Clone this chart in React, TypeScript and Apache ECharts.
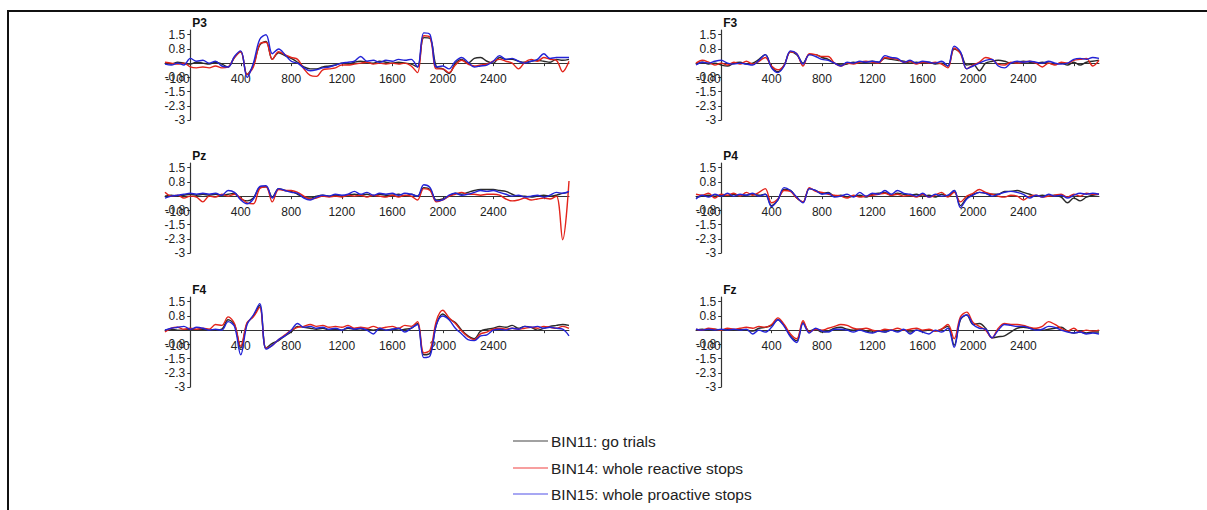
import React, { useEffect, useRef } from "react";
import * as echarts from "echarts";

// time points (ms)
const timeMs = [
  -200, -150, -100, -50, 0, 50, 100, 150, 200, 250, 300, 350, 400, 450, 500, 550, 600, 650, 700, 750,
  800, 850, 900, 950, 1000, 1050, 1100, 1150, 1200, 1250, 1300, 1350, 1400, 1450, 1500, 1550, 1600, 1650, 1700, 1750,
  1800, 1850, 1900, 1950, 2000, 2050, 2100, 2150, 2200, 2250, 2300, 2350, 2400, 2450, 2500, 2550, 2600, 2650, 2700, 2750,
  2800, 2850, 2900, 2950, 3000,
];

const channels = ["P3", "F3", "Pz", "P4", "F4", "Fz"];
const binNames = ["BIN11: go trials", "BIN14: whole reactive stops", "BIN15: whole proactive stops"];

const xLabelValues = [-100, 400, 800, 1200, 1600, 2000, 2400];
const xTickValues = [0, 400, 800, 1200, 1600, 2000, 2400, 2800];
const yLabelValues = [-3, -2.25, -1.5, -0.75, 0.75, 1.5];
const yLabelText = ["-3", "-2.3", "-1.5", "-0.8", "0.8", "1.5"];

// P3
const P3_go = [0.0, -0.05, 0.05, 0.0, -0.05, 0.05, 0.0, -0.05, 0.05, -0.05, -0.2, 0.3, 0.6, -0.6, -0.1, 0.95, 1.15, 0.2, 0.55, 0.4, 0.25, 0.05, -0.2, -0.3, -0.3, -0.2, -0.15, -0.1, 0.0, -0.05, 0.05, 0.1, 0.05, 0.0, 0.1, 0.05, 0.0, 0.05, 0.0, -0.05, -0.2, 1.35, 1.3, -0.2, -0.3, -0.55, 0.0, 0.2, 0.0, 0.25, 0.3, 0.1, 0.0, 0.3, 0.2, 0.2, 0.1, 0.05, 0.1, 0.15, 0.1, 0.05, 0.2, 0.15, 0.2];
const P3_reactive = [0.05, 0.0, -0.05, 0.0, -0.2, -0.25, -0.2, -0.25, -0.15, -0.25, -0.2, 0.3, 0.6, -0.6, -0.2, 1.0, 1.1, 0.2, 0.6, 0.45, 0.3, 0.2, -0.3, -0.65, -0.7, -0.35, -0.3, -0.25, -0.1, -0.1, -0.05, 0.0, 0.05, -0.05, 0.0, -0.05, 0.0, -0.05, 0.0, -0.15, -0.5, 1.45, 1.35, -0.3, -0.3, -0.5, -0.1, 0.15, -0.05, -0.15, -0.1, -0.05, 0.1, 0.2, 0.1, 0.0, -0.3, 0.05, 0.2, 0.1, 0.3, 0.2, 0.15, -0.45, 0.1];
const P3_proactive = [-0.05, -0.1, 0.0, -0.1, 0.25, 0.1, 0.15, 0.0, 0.1, -0.15, -0.2, 0.35, 0.65, -0.75, 0.0, 1.25, 1.5, 0.5, 0.75, 0.45, 0.1, 0.0, -0.25, -0.4, -0.35, -0.25, -0.2, -0.1, 0.0, 0.05, 0.1, 0.35, 0.1, 0.15, 0.05, 0.15, 0.1, 0.2, 0.15, 0.2, -0.2, 1.6, 1.5, -0.2, -0.15, -0.3, 0.1, 0.3, 0.05, -0.2, -0.15, -0.1, 0.1, 0.4, 0.2, 0.25, 0.1, 0.0, 0.1, 0.2, 0.5, 0.25, 0.3, 0.3, 0.3];

// F3
const F3_go = [-0.05, 0.05, -0.05, 0.0, -0.1, -0.15, 0.0, 0.05, -0.05, 0.0, 0.2, 0.45, -0.2, -0.45, -0.1, 0.6, 0.45, 0.0, 0.45, 0.45, 0.3, 0.2, 0.0, -0.1, -0.05, 0.05, 0.0, 0.05, 0.1, 0.05, 0.25, 0.2, 0.15, 0.1, 0.0, 0.05, 0.0, 0.05, -0.05, 0.0, -0.15, 0.75, 0.55, -0.1, -0.05, -0.4, 0.0, 0.1, 0.15, 0.1, 0.0, 0.05, 0.1, 0.05, 0.0, 0.05, 0.0, -0.05, 0.0, -0.1, 0.05, -0.1, 0.05, 0.1, 0.15];
const F3_reactive = [0.0, 0.15, 0.05, -0.1, 0.0, -0.1, 0.05, -0.05, 0.1, -0.05, 0.1, 0.3, -0.15, -0.35, -0.1, 0.6, 0.5, -0.15, 0.5, 0.45, 0.35, 0.35, 0.0, -0.15, 0.0, -0.05, 0.05, 0.1, 0.05, 0.0, 0.3, 0.25, 0.2, 0.05, 0.1, -0.05, 0.05, 0.0, 0.05, -0.05, -0.25, 0.8, 0.5, -0.3, -0.1, 0.05, 0.3, 0.2, -0.05, -0.1, 0.05, 0.0, 0.05, 0.1, 0.0, -0.2, 0.0, -0.1, 0.05, 0.0, 0.15, 0.2, 0.25, -0.15, 0.15];
const F3_proactive = [-0.1, 0.05, 0.0, 0.1, 0.15, 0.0, -0.05, 0.0, -0.05, -0.1, 0.15, 0.45, -0.25, -0.5, -0.15, 0.65, 0.5, -0.05, 0.45, 0.35, 0.2, 0.15, 0.0, -0.15, 0.05, 0.0, 0.1, 0.05, 0.1, 0.05, 0.4, 0.3, 0.25, 0.05, 0.15, 0.0, 0.1, 0.05, 0.0, 0.1, -0.15, 0.9, 0.6, -0.3, -0.15, 0.0, 0.15, 0.2, -0.15, -0.25, 0.0, 0.1, 0.05, 0.1, 0.05, 0.0, 0.1, 0.0, -0.05, 0.0, 0.2, 0.25, 0.2, 0.3, 0.25];

// Pz
const Pz_go = [0.0, 0.05, 0.0, 0.05, 0.1, 0.05, 0.1, 0.05, 0.1, 0.05, 0.1, 0.15, -0.15, -0.25, -0.1, 0.45, 0.5, -0.05, 0.4, 0.3, 0.25, 0.1, -0.05, -0.1, 0.0, 0.05, 0.0, 0.05, 0.0, 0.05, 0.1, 0.05, 0.1, 0.0, 0.1, 0.05, 0.05, 0.1, 0.0, 0.1, 0.0, 0.45, 0.35, -0.2, -0.15, 0.0, 0.15, 0.1, 0.2, 0.3, 0.35, 0.35, 0.35, 0.3, 0.25, 0.1, 0.0, 0.0, -0.05, 0.0, 0.05, 0.0, 0.05, 0.15, 0.2];
const Pz_reactive = [0.2, 0.0, 0.05, -0.1, 0.0, -0.05, -0.3, 0.0, -0.05, 0.1, 0.0, 0.1, -0.1, -0.35, -0.4, 0.4, 0.5, -0.3, 0.35, 0.3, 0.3, 0.2, 0.0, -0.15, -0.1, 0.0, -0.05, 0.0, -0.05, 0.05, 0.0, 0.05, -0.05, 0.05, 0.0, -0.05, 0.05, -0.05, 0.05, 0.0, -0.2, 0.4, 0.3, -0.3, -0.2, 0.0, 0.1, 0.2, 0.1, 0.1, 0.05, 0.1, 0.1, 0.05, -0.15, -0.25, -0.2, -0.1, -0.2, -0.15, -0.1, -0.15, 0.0, -2.3, 0.8];
const Pz_proactive = [-0.1, 0.0, 0.05, 0.1, 0.15, 0.1, 0.15, 0.1, 0.15, 0.05, 0.3, 0.2, -0.2, -0.4, -0.15, 0.5, 0.55, -0.1, 0.4, 0.3, 0.2, 0.15, -0.1, -0.2, -0.05, 0.05, 0.0, 0.1, 0.05, 0.1, 0.25, 0.1, 0.2, 0.05, 0.15, 0.1, 0.15, 0.05, 0.15, 0.1, 0.0, 0.6, 0.45, -0.25, -0.2, 0.05, 0.15, 0.05, 0.1, 0.2, 0.3, 0.25, 0.3, 0.2, 0.1, 0.0, 0.05, -0.05, 0.0, 0.05, -0.05, 0.05, 0.2, 0.15, 0.25];

// P4
const P4_go = [-0.05, 0.0, 0.05, 0.0, 0.05, 0.0, 0.1, 0.0, 0.05, 0.1, 0.05, 0.1, -0.5, -0.2, 0.35, 0.3, -0.1, -0.3, 0.4, 0.3, 0.15, 0.2, 0.0, 0.05, -0.05, 0.0, 0.05, -0.05, 0.1, 0.15, 0.2, 0.05, 0.15, 0.1, 0.05, 0.1, 0.0, 0.05, -0.05, 0.1, 0.0, 0.3, -0.5, -0.1, 0.1, 0.2, 0.15, 0.1, 0.1, 0.25, 0.25, 0.3, 0.2, 0.1, 0.0, 0.05, 0.0, 0.05, -0.05, -0.35, -0.1, -0.25, -0.05, 0.05, 0.1];
const P4_reactive = [0.1, 0.05, 0.15, -0.1, 0.1, 0.05, 0.15, 0.0, 0.2, 0.05, 0.2, 0.4, -0.35, -0.15, 0.3, 0.25, -0.1, -0.3, 0.45, 0.25, 0.2, 0.1, 0.05, 0.0, -0.1, 0.05, -0.05, 0.0, 0.05, 0.1, 0.15, 0.05, 0.1, 0.0, 0.05, -0.05, 0.1, -0.05, 0.05, 0.2, -0.05, 0.2, -0.3, 0.0, 0.15, 0.35, 0.2, 0.1, 0.0, -0.05, 0.05, 0.0, -0.2, 0.0, 0.05, -0.05, 0.0, 0.05, 0.1, -0.05, 0.1, 0.0, 0.15, 0.1, 0.1];
const P4_proactive = [-0.15, 0.05, -0.05, 0.1, 0.0, 0.15, 0.0, 0.1, 0.05, 0.15, 0.0, 0.1, -0.55, -0.2, 0.45, 0.3, -0.05, -0.35, 0.4, 0.3, 0.1, 0.15, -0.05, 0.0, 0.1, -0.05, 0.2, 0.0, 0.15, 0.1, 0.3, 0.1, 0.3, 0.15, 0.1, 0.0, 0.15, -0.05, 0.1, 0.0, 0.05, 0.3, -0.6, -0.15, 0.05, 0.2, 0.15, 0.0, 0.1, 0.2, 0.25, 0.2, 0.1, -0.1, 0.05, -0.05, 0.1, 0.0, 0.05, -0.1, 0.05, 0.15, 0.1, 0.15, 0.1];

// F4
const F4_go = [0.0, 0.05, 0.0, 0.0, 0.05, 0.0, 0.05, 0.0, 0.0, 0.05, 0.55, 0.3, -0.95, 0.35, 0.75, 1.3, -0.95, -0.7, -0.55, -0.3, -0.1, 0.2, 0.15, 0.1, 0.05, 0.1, 0.0, 0.05, 0.0, 0.1, 0.05, 0.0, 0.05, 0.0, 0.05, 0.0, 0.05, 0.0, 0.05, 0.1, 0.35, -1.3, -1.2, 0.3, 0.85, 0.6, 0.4, 0.0, -0.3, -0.45, -0.05, 0.05, 0.1, 0.2, 0.15, 0.25, 0.1, 0.2, 0.15, 0.0, 0.1, 0.2, 0.25, 0.3, 0.25];
const F4_reactive = [-0.1, 0.1, 0.15, 0.05, 0.1, 0.05, 0.1, 0.05, 0.3, 0.25, 0.7, 0.35, -0.85, 0.4, 0.7, 1.2, -0.95, -0.8, -0.5, -0.25, 0.0, 0.15, 0.2, 0.3, 0.2, 0.25, 0.15, 0.2, 0.15, 0.25, 0.1, 0.15, 0.1, 0.2, 0.1, 0.15, 0.2, 0.1, 0.25, 0.2, 0.45, -1.2, -1.05, 0.5, 1.05, 0.65, 0.35, -0.05, -0.35, -0.5, -0.2, -0.1, 0.05, 0.1, 0.05, 0.1, 0.05, 0.1, 0.15, 0.1, 0.2, 0.15, 0.1, 0.2, 0.1];
const F4_proactive = [0.0, 0.1, 0.15, 0.2, 0.05, 0.15, 0.1, 0.0, 0.05, 0.0, 0.45, 0.2, -1.3, 0.3, 0.8, 1.4, -1.0, -0.8, -0.5, -0.3, 0.0, 0.35, 0.15, 0.2, 0.1, 0.15, 0.05, 0.1, 0.0, 0.15, 0.05, 0.1, 0.0, -0.2, 0.1, 0.0, 0.05, 0.1, -0.1, 0.1, 0.3, -1.45, -1.35, 0.3, 0.75, 0.55, 0.1, -0.2, -0.5, -0.55, -0.3, -0.25, 0.0, 0.05, 0.0, 0.1, 0.05, 0.2, 0.15, 0.2, 0.1, 0.15, 0.1, 0.05, -0.3];

// Fz
const Fz_go = [0.0, 0.05, 0.0, 0.05, 0.0, 0.05, 0.0, 0.05, 0.0, -0.05, 0.1, 0.15, 0.25, 0.55, 0.25, -0.3, -0.55, 0.4, -0.05, 0.05, -0.1, -0.05, 0.1, 0.15, 0.05, 0.0, 0.05, -0.05, -0.1, -0.05, -0.1, 0.0, -0.05, 0.0, -0.1, 0.0, -0.05, 0.0, -0.05, 0.05, 0.2, -0.8, 0.55, 0.8, 0.3, 0.35, 0.1, -0.4, -0.35, -0.3, -0.1, 0.1, 0.15, 0.1, 0.05, 0.0, 0.05, 0.1, 0.15, -0.05, -0.15, -0.1, -0.15, -0.1, -0.1];
const Fz_reactive = [0.05, 0.0, 0.1, 0.05, 0.0, 0.1, 0.05, 0.1, 0.15, 0.1, 0.2, 0.15, 0.3, 0.65, 0.3, -0.2, -0.45, 0.5, -0.1, 0.05, 0.0, 0.1, 0.2, 0.3, 0.25, 0.1, 0.05, 0.1, 0.0, -0.05, 0.05, 0.0, 0.1, 0.0, 0.05, 0.1, 0.0, 0.05, -0.05, 0.05, 0.3, -0.45, 0.7, 0.95, 0.4, 0.2, 0.0, -0.4, 0.1, 0.35, 0.3, 0.3, 0.25, 0.15, 0.1, 0.2, 0.45, 0.3, 0.1, -0.05, 0.1, -0.1, 0.0, -0.05, 0.0];
const Fz_proactive = [0.05, 0.0, 0.05, 0.0, 0.05, 0.0, 0.05, 0.0, 0.05, -0.2, 0.0, -0.1, 0.15, 0.55, 0.2, -0.35, -0.65, 0.35, -0.15, 0.1, -0.05, -0.1, 0.05, 0.05, 0.0, -0.1, 0.0, -0.1, -0.15, -0.05, -0.1, 0.0, -0.1, 0.05, -0.2, 0.0, -0.1, -0.2, 0.0, -0.1, 0.1, -0.9, 0.6, 0.8, 0.3, 0.1, 0.05, -0.4, 0.0, 0.3, 0.25, 0.2, 0.2, 0.1, 0.0, 0.05, 0.2, 0.15, 0.0, -0.1, -0.15, -0.1, -0.2, -0.15, -0.2];

const channelData: Record<string, number[][]> = {
  P3: [P3_go, P3_reactive, P3_proactive],
  F3: [F3_go, F3_reactive, F3_proactive],
  Pz: [Pz_go, Pz_reactive, Pz_proactive],
  P4: [P4_go, P4_reactive, P4_proactive],
  F4: [F4_go, F4_reactive, F4_proactive],
  Fz: [Fz_go, Fz_reactive, Fz_proactive],
};

const lineColors = ["#2a2a2a", "#e3241b", "#2323d6"];
const legendColors = ["#444444", "#ef4040", "#5050e8"];
const FONT = "Liberation Sans, Arial, sans-serif";

const X_MIN = -200;
const X_MAX = 3000;
const Y_MIN = -3;
const Y_MAX = 1.75;

export default function App() {
  const ref = useRef<HTMLDivElement>(null);
  useEffect(() => {
    if (!ref.current) return;
    const chart = echarts.init(ref.current, null, { renderer: "svg" });

    const colLeft = [165, 696];
    const colWidth = [404, 403];
    const rowTop = [30, 163, 297];
    const gridH = 90;

    const grids: any[] = [];
    const xAxes: any[] = [];
    const yAxes: any[] = [];
    const series: any[] = [];
    const graphics: any[] = [];

    channels.forEach((ch, i) => {
      const col = i % 2;
      const row = Math.floor(i / 2);
      const zeroFromLeft = (colWidth[col] * (0 - X_MIN)) / (X_MAX - X_MIN);
      const zeroFromBottom = (gridH * (0 - Y_MIN)) / (Y_MAX - Y_MIN);
      grids.push({ left: colLeft[col], top: rowTop[row], width: colWidth[col], height: gridH, containLabel: false });
      xAxes.push({
        type: "value",
        gridIndex: i,
        min: X_MIN,
        max: X_MAX,
        position: "bottom",
        offset: -zeroFromBottom,
        axisLine: { show: true, onZero: false, lineStyle: { color: "#333", width: 1 } },
        axisTick: { show: true, customValues: xTickValues, length: 3, lineStyle: { color: "#333" } },
        axisLabel: {
          show: true,
          customValues: xLabelValues,
          formatter: (v: number) => String(v),
          margin: 10,
          fontSize: 12,
          color: "#222",
          fontFamily: FONT,
        },
        splitLine: { show: false },
      });
      yAxes.push({
        type: "value",
        gridIndex: i,
        min: Y_MIN,
        max: Y_MAX,
        position: "left",
        offset: -zeroFromLeft,
        axisLine: { show: true, onZero: false, lineStyle: { color: "#333", width: 1.2 } },
        axisTick: { show: true, customValues: yLabelValues, length: 3, lineStyle: { color: "#333" } },
        axisLabel: {
          show: true,
          customValues: yLabelValues,
          formatter: (v: number) => {
            const k = yLabelValues.findIndex((y) => Math.abs(y - v) < 1e-6);
            return k >= 0 ? yLabelText[k] : "";
          },
          margin: 5,
          fontSize: 12,
          color: "#222",
          fontFamily: FONT,
        },
        splitLine: { show: false },
      });
      channelData[ch].forEach((arr, b) => {
        series.push({
          type: "line",
          name: binNames[b],
          xAxisIndex: i,
          yAxisIndex: i,
          data: timeMs.map((t, k) => [t, arr[k]]),
          showSymbol: false,
          smooth: 0.35,
          lineStyle: { color: lineColors[b], width: 1.4 },
          itemStyle: { color: lineColors[b] },
          z: 2 + b,
        });
      });
      // channel label
      graphics.push({
        type: "text",
        x: colLeft[col] + zeroFromLeft + 2,
        y: rowTop[row] - 7,
        style: {
          text: ch,
          font: `bold 12px ${FONT}`,
          fill: "#111",
          verticalAlign: "middle",
          align: "left",
        },
      });
    });

    // legend
    const legY = [441, 468, 494];
    binNames.forEach((name, b) => {
      graphics.push({
        type: "line",
        shape: { x1: 513, y1: legY[b], x2: 548, y2: legY[b] },
        style: { stroke: legendColors[b], lineWidth: 1.2 },
      });
      graphics.push({
        type: "text",
        x: 551,
        y: legY[b],
        style: { text: name, font: `15.5px ${FONT}`, fill: "#222", verticalAlign: "middle", align: "left" },
      });
    });

    // frame (top and left edges only)
    graphics.push({ type: "line", shape: { x1: 7, y1: 11, x2: 1207, y2: 11 }, style: { stroke: "#111", lineWidth: 2 } });
    graphics.push({ type: "line", shape: { x1: 8, y1: 10, x2: 8, y2: 510 }, style: { stroke: "#111", lineWidth: 2 } });

    chart.setOption({
      animation: false,
      backgroundColor: "#ffffff",
      grid: grids,
      xAxis: xAxes,
      yAxis: yAxes,
      series,
      graphic: graphics,
    });
    return () => chart.dispose();
  }, []);
  return (
    <div
      ref={ref}
      style={{ position: "fixed", left: 0, top: 0, width: 1207, height: 510, overflow: "hidden" }}
    />
  );
}
